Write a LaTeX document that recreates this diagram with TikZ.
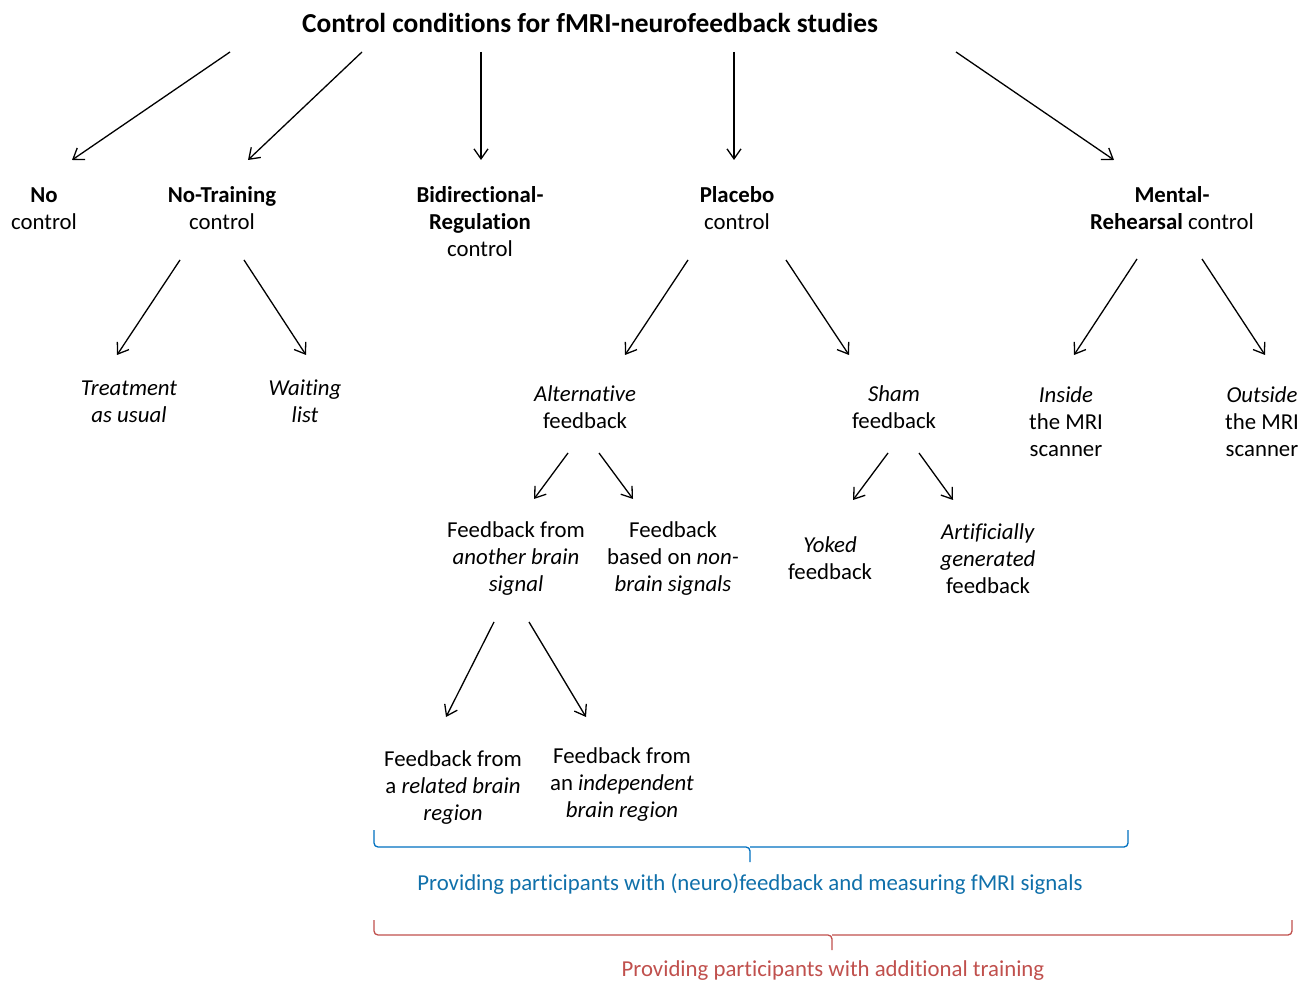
\documentclass[tikz,border=0pt]{standalone}
\usepackage{fontspec}
\setmainfont{Carlito}[Ligatures=NoCommon]
\usepackage{tikz}
\usetikzlibrary{calc,arrows.meta}
\definecolor{fbblue}{RGB}{0,112,192}
\definecolor{fbtext}{RGB}{16,112,170}
\definecolor{trred}{RGB}{192,80,77}
\tikzstyle{heading} = [font=\fontsize{13.7}{16}\selectfont\bfseries, inner sep=0pt]
\tikzstyle{branch} = [align=center, font=\fontsize{11.4}{13.5}\selectfont, inner sep=0pt]
\tikzstyle{arrow} = [line width=0.65pt, -{Straight Barb[length=5pt,width=7pt]}]
\tikzstyle{bracket} = [line width=0.65pt, rounded corners=2pt]

\begin{document}
\begin{tikzpicture}[x=0.5pt, y=-0.5pt]
        \useasboundingbox (0,0) rectangle (1306,983);

        % Titre
        \node (title) [heading] at (590,23) {Control conditions for fMRI-neurofeedback studies};

        % Premier niveau
        \node (noCtrl) [branch] at (44,208.5) {\textbf{No}\\control};
        \node (noTraining) [branch] at (222,208.5) {\textbf{No-Training}\\control};
        \node (bidir) [branch] at (480,222) {\textbf{Bidirectional-}\\\textbf{Regulation}\\control};
        \node (placebo) [branch] at (737,208.5) {\textbf{Placebo}\\control};
        \node (mental) [branch] at (1172,208.5) {\textbf{Mental-}\\\textbf{Rehearsal} control};

        % Deuxieme niveau
        \node (treatment) [branch] at (129,401.5) {\textit{Treatment}\\\textit{as usual}};
        \node (waiting) [branch] at (305,401.5) {\textit{Waiting}\\\textit{list}};
        \node (altFeedback) [branch] at (585,407.5) {\textit{Alternative}\\feedback};
        \node (shamFeedback) [branch] at (894,407.5) {\textit{Sham}\\feedback};
        \node (inside) [branch] at (1066,421.5) {\textit{Inside}\\the MRI\\scanner};
        \node (outside) [branch] at (1262,421.5) {\textit{Outside}\\the MRI\\scanner};

        % Troisieme niveau
        \node (anotherSignal) [branch] at (516,558.5) {Feedback from\\\textit{another brain}\\\textit{signal}};
        \node (nonBrain) [branch] at (673,558.5) {Feedback\\based on \textit{non-}\\\textit{brain signals}};
        \node (yoked) [branch] at (830,558.5) {\textit{Yoked}\\feedback};
        \node (artificial) [branch] at (988,558.5) {\textit{Artificially}\\\textit{generated}\\feedback};

        % Quatrieme niveau
        \node (relatedRegion) [branch] at (453,787.5) {Feedback from\\a \textit{related brain}\\\textit{region}};
        \node (indepRegion) [branch] at (622,784.5) {Feedback from\\an \textit{independent}\\\textit{brain region}};

        % Accolades
        \node (fbNote) [branch, text=fbtext] at (750,884) {Providing participants with (neuro)feedback and measuring fMRI signals};
        \node (trNote) [branch, text=trred] at (833,971) {Providing participants with additional training};
        \draw [bracket, fbblue] (374,830) -- (374,847) -- (750,847) -- (750,862);
        \draw [bracket, fbblue] (750,847) -- (1128,847) -- (1128,830);
        \draw [bracket, trred] (374,920) -- (374,935) -- (832,935) -- (832,950);
        \draw [bracket, trred] (832,935) -- (1292,935) -- (1292,920);

        % Fleches titre
        \draw [arrow] ($(title)+(-360,29)$) -- ($(noCtrl)+(28,-48.5)$);
        \draw [arrow] ($(title)+(-228,29)$) -- ($(noTraining)+(26,-48.5)$);
        \draw [arrow] ($(title)+(-109,29)$) -- ($(bidir)+(1,-62)$);
        \draw [arrow] ($(title)+(144,29)$) -- ($(placebo)+(-3,-48.5)$);
        \draw [arrow] ($(title)+(366,29)$) -- ($(mental)+(-58,-48.5)$);

        % Fleches deuxieme niveau
        \draw [arrow] ($(noTraining)+(-42,51.5)$) -- ($(treatment)+(-12,-46.5)$);
        \draw [arrow] ($(noTraining)+(22,51.5)$) -- ($(waiting)+(1,-46.5)$);
        \draw [arrow] ($(placebo)+(-49,51.5)$) -- ($(altFeedback)+(40,-52.5)$);
        \draw [arrow] ($(placebo)+(49,51.5)$) -- ($(shamFeedback)+(-45,-52.5)$);
        \draw [arrow] ($(mental)+(-35,50.5)$) -- ($(inside)+(8,-66.5)$);
        \draw [arrow] ($(mental)+(30,50.5)$) -- ($(outside)+(3,-66.5)$);

        % Fleches troisieme niveau
        \draw [arrow] ($(altFeedback)+(-17,45.5)$) -- ($(anotherSignal)+(18,-59.5)$);
        \draw [arrow] ($(altFeedback)+(14,45.5)$) -- ($(nonBrain)+(-40,-59.5)$);
        \draw [arrow] ($(shamFeedback)+(-6,45.5)$) -- ($(yoked)+(23,-58.5)$);
        \draw [arrow] ($(shamFeedback)+(25,45.5)$) -- ($(artificial)+(-35,-58.5)$);

        % Fleches quatrieme niveau
        \draw [arrow] ($(anotherSignal)+(-22,63.5)$) -- ($(relatedRegion)+(-7,-70.5)$);
        \draw [arrow] ($(anotherSignal)+(13,63.5)$) -- ($(indepRegion)+(-36,-67.5)$);

\end{tikzpicture}
\end{document}
